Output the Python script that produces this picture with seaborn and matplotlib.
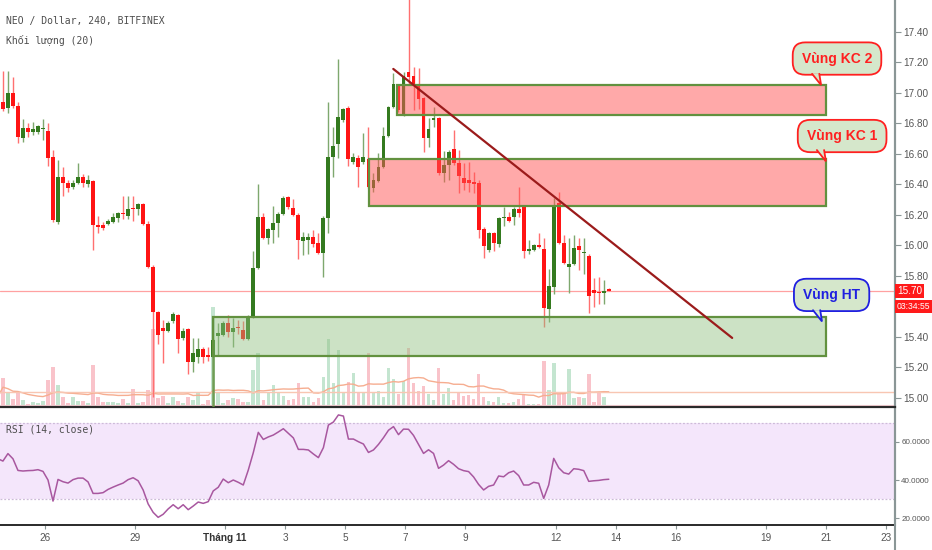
import numpy as np
import pandas as pd
import matplotlib
matplotlib.use("Agg")
import matplotlib.pyplot as plt
import matplotlib.transforms as mtransforms
from matplotlib import font_manager
from matplotlib.patches import Rectangle, Polygon
from matplotlib.lines import Line2D
import seaborn as sns

# NEO / Dollar, 4h candles (Bitfinex)
start_day = -1.56   # first candle, days counted from 26 Oct 00:00
opens = [16.93, 16.94, 16.90, 17.00, 16.91, 16.70, 16.77, 16.74, 16.74, 16.76,
         16.75, 16.58, 16.15, 16.45, 16.41, 16.38, 16.41, 16.45, 16.40, 16.42,
         16.13, 16.13, 16.14, 16.15, 16.18, 16.21, 16.19, 16.245, 16.24, 16.27,
         16.14, 15.86, 15.56, 15.46, 15.44, 15.50, 15.54, 15.39, 15.45, 15.235,
         15.27, 15.32, 15.28, 15.27, 15.405, 15.41, 15.49, 15.43, 15.465, 15.445,
         15.385, 15.53, 15.85, 16.185, 16.05, 16.10, 16.146, 16.205, 16.315, 16.245,
         16.20, 16.028, 16.034, 16.054, 16.015, 15.95, 16.18, 16.58, 16.664, 16.82,
         16.90, 16.546, 16.57, 16.546, 16.565, 16.375, 16.42, 16.513, 16.716, 16.906,
         17.044, 16.854, 17.136, 17.11, 17.044, 16.965, 16.703, 16.82, 16.834, 16.474,
         16.526, 16.631, 16.54, 16.44, 16.428, 16.415, 16.408, 16.106, 15.97, 16.08,
         16.008, 16.178, 16.185, 16.185, 16.237, 16.25, 15.96, 15.969, 16.002, 15.975,
         15.582, 15.726, 16.277, 16.015, 15.857, 15.877, 15.995, 15.949, 15.93, 15.706,
         15.693, 15.687, 15.71]
highs = [17.12, 17.14, 17.14, 17.10, 16.94, 16.83, 16.80, 16.81, 16.79, 16.83,
         16.80, 16.625, 16.56, 16.51, 16.43, 16.43, 16.54, 16.47, 16.46, 16.43,
         16.19, 16.15, 16.17, 16.21, 16.22, 16.32, 16.32, 16.32, 16.28, 16.28,
         16.16, 15.87, 15.57, 15.51, 15.50, 15.56, 15.55, 15.46, 15.46, 15.39,
         15.39, 15.33, 15.33, 15.39, 15.49, 15.50, 15.54, 15.52, 15.51, 15.50,
         15.54, 15.96, 16.40, 16.21, 16.11, 16.26, 16.22, 16.32, 16.32, 16.30,
         16.21, 16.087, 16.08, 16.10, 16.08, 16.19, 16.94, 16.775, 17.22, 16.90,
         16.91, 16.605, 16.59, 16.736, 16.775, 16.474, 16.605, 16.775, 16.913, 17.13,
         17.05, 17.136, 17.62, 17.169, 17.162, 16.97, 16.834, 16.906, 16.84, 16.618,
         16.625, 16.756, 16.625, 16.54, 16.546, 16.48, 16.43, 16.12, 16.087, 16.087,
         16.185, 16.25, 16.218, 16.25, 16.382, 16.25, 16.034, 16.008, 16.08, 16.047,
         15.844, 16.31, 16.35, 16.067, 16.047, 16.067, 16.047, 16.047, 15.943, 15.785,
         15.792, 15.772, 15.72]
lows = [16.78, 16.88, 16.87, 16.90, 16.67, 16.68, 16.71, 16.72, 16.73, 16.69,
        16.52, 16.15, 16.14, 16.32, 16.35, 16.37, 16.40, 16.38, 16.38, 15.97,
        16.08, 16.10, 16.13, 16.145, 16.15, 16.17, 16.17, 16.16, 16.20, 16.13,
        15.85, 15.005, 15.35, 15.23, 15.43, 15.49, 15.29, 15.38, 15.155, 15.17,
        15.23, 15.23, 15.24, 15.265, 15.28, 15.405, 15.40, 15.33, 15.42, 15.38,
        15.38, 15.52, 15.845, 16.04, 16.01, 16.015, 16.054, 16.20, 16.24, 16.19,
        15.91, 15.936, 15.94, 15.99, 15.94, 15.79, 16.08, 16.45, 16.57, 16.81,
        16.52, 16.53, 16.382, 16.53, 16.375, 16.35, 16.415, 16.506, 16.71, 16.90,
        16.874, 16.847, 17.05, 16.887, 16.893, 16.61, 16.644, 16.775, 16.46, 16.415,
        16.428, 16.526, 16.34, 16.362, 16.35, 16.34, 16.047, 15.916, 15.956, 15.96,
        15.99, 16.126, 16.152, 16.13, 16.185, 15.916, 15.943, 15.96, 15.98, 15.464,
        15.497, 15.68, 16.008, 15.877, 15.687, 15.87, 15.838, 15.812, 15.556, 15.595,
        15.615, 15.615, 15.70]
closes = [16.90, 16.89, 17.00, 16.91, 16.71, 16.77, 16.74, 16.76, 16.78, 16.765,
          16.57, 16.165, 16.45, 16.41, 16.375, 16.41, 16.45, 16.41, 16.43, 16.13,
          16.12, 16.11, 16.16, 16.185, 16.21, 16.205, 16.24, 16.235, 16.27, 16.14,
          15.86, 15.56, 15.41, 15.44, 15.49, 15.55, 15.385, 15.44, 15.235, 15.29,
          15.32, 15.27, 15.27, 15.38, 15.425, 15.49, 15.43, 15.46, 15.455, 15.385,
          15.53, 15.85, 16.185, 16.05, 16.106, 16.146, 16.205, 16.31, 16.25, 16.20,
          16.034, 16.054, 16.054, 16.008, 15.95, 16.18, 16.58, 16.65, 16.84, 16.89,
          16.565, 16.58, 16.513, 16.58, 16.382, 16.428, 16.513, 16.716, 16.906, 17.057,
          16.887, 17.11, 17.103, 17.05, 16.959, 16.703, 16.762, 16.834, 16.474, 16.526,
          16.61, 16.54, 16.454, 16.408, 16.408, 16.40, 16.10, 15.995, 16.08, 16.015,
          16.178, 16.185, 16.16, 16.237, 16.21, 15.96, 15.975, 16.002, 15.988, 15.588,
          15.733, 16.257, 16.015, 15.883, 15.877, 15.982, 15.969, 15.956, 15.667, 15.687,
          15.687, 15.70, 15.70]
volumes = [10, 29, 15, 8, 14, 7, 3, 5, 4, 6, 27, 40, 22, 10, 4, 10, 6, 6, 4, 42,
           10, 5, 5, 5, 4, 8, 4, 18, 4, 5, 17, 78, 9, 11, 4, 10, 6, 4, 10, 7,
           15, 3, 7, 100, 14, 4, 7, 9, 8, 5, 5, 37, 54, 7, 15, 22, 15, 11, 7, 8,
           24, 10, 10, 5, 9, 30, 68, 24, 57, 15, 25, 34, 15, 15, 54, 15, 16, 10, 39, 28,
           13, 26, 59, 24, 16, 21, 13, 7, 39, 13, 19, 7, 15, 11, 12, 8, 33, 10, 6, 5,
           10, 4, 4, 5, 8, 13, 3, 3, 3, 46, 17, 44, 13, 14, 38, 9, 10, 9, 33, 5,
           14, 10, 2]
rsi_values = [51.1, 49.9, 53.8, 51.1, 45.0, 44.7, 44.9, 45.0, 45.4, 44.5,
              40.0, 29.0, 40.3, 39.1, 38.4, 40.2, 41.0, 41.0, 39.0, 33.0,
              33.0, 33.4, 35.1, 36.3, 37.4, 38.4, 40.2, 41.2, 39.6, 34.8,
              27.5, 23.1, 20.5, 22.1, 24.9, 27.1, 25.0, 27.1, 24.5, 26.4,
              28.5, 27.8, 28.7, 34.3, 36.2, 40.5, 38.6, 40.0, 38.8, 37.4,
              45.2, 54.3, 64.9, 61.2, 62.5, 63.5, 65.1, 66.8, 64.4, 62.0,
              56.0, 56.0, 55.7, 53.6, 51.7, 56.9, 68.7, 70.3, 74.0, 73.4,
              61.4, 61.4, 60.0, 58.8, 54.4, 55.7, 58.6, 62.1, 66.0, 67.9,
              63.7, 66.6, 66.5, 63.3, 58.6, 53.9, 55.8, 53.9, 46.1, 47.8,
              50.1, 48.2, 45.9, 44.9, 44.4, 41.6, 37.7, 34.8, 36.7, 37.4,
              42.1, 41.7, 43.8, 44.7, 42.3, 37.4, 37.4, 38.8, 38.3, 30.4,
              37.4, 51.3, 46.4, 43.8, 43.1, 45.9, 45.6, 44.9, 39.3, 39.6,
              39.8, 40.2, 40.4]

date_ticks = [0, 3, 6, 8, 10, 12, 14, 17, 19, 21, 24, 26, 28]
date_labels = ['26', '29', 'Tháng 11', '3', '5', '7', '9', '12', '14', '16', '19', '21', '23']
price_ticks = [15.0, 15.2, 15.4, 15.8, 16.0, 16.2, 16.4, 16.6, 16.8, 17.0, 17.2, 17.4]
rsi_ticks = [20, 40, 60]

# hand drawn zones: start/end day, low/high price
zone_names = ['Vùng KC 2', 'Vùng KC 1', 'Vùng HT']
zone_kind = ['kc', 'kc', 'ht']
zone_start = [11.73, 10.79, 5.61]
zone_end = [26.0, 26.0, 26.0]
zone_low = [16.854, 16.257, 15.275]
zone_high = [17.05, 16.563, 15.531]
label_day = [26.37, 26.54, 26.19]
label_price = [17.224, 16.716, 15.674]
tip_day = [25.84, 26.0, 25.87]
tip_price = [17.05, 16.55, 15.50]

trend_days = [11.60, 22.88]
trend_prices = [17.156, 15.392]

last_price = 15.70
countdown = '03:34:55'

df = pd.DataFrame({'open': opens, 'high': highs, 'low': lows, 'close': closes,
                   'volume': volumes, 'rsi': rsi_values})
df['day'] = start_day + np.arange(len(df)) / 6
df['vol_ma'] = df['volume'].rolling(20, min_periods=1).mean()

names = {f.name for f in font_manager.fontManager.ttflist}
if 'Liberation Sans Narrow' in names:
    narrow, bubble_fs, tick_fs, small_fs = 'Liberation Sans Narrow', 11.5, 8, 7.5
else:
    narrow, bubble_fs, tick_fs, small_fs = 'Liberation Sans', 10, 7.2, 5.8

sns.set_theme(style='white')
plt.rcParams['font.family'] = [narrow, 'DejaVu Sans']

GREEN = '#347a1f'
RED = '#ff1414'
AXIS = '#8a9696'
TXT = '#555555'
BUBBLE = '#d5e7cb'

fig = plt.figure(figsize=(9.32, 5.5), dpi=100)
ax = fig.add_axes([0, 1 - 406.7 / 550, 895 / 932, 406.7 / 550])
ax_rsi = fig.add_axes([0, 25 / 550, 895 / 932, 118.3 / 550], sharex=ax)
axv = ax.twinx()
ax.set_zorder(2)
axv.set_zorder(1)
ax.patch.set_visible(False)

# volume
up = df['close'] >= df['open']
vcol = np.where(up, '#c4e5d0', '#f9c3ca')
axv.bar(df['day'], df['volume'], width=0.12, color=vcol, linewidth=0)
sns.lineplot(x=df['day'], y=df['vol_ma'], ax=axv, color='#f6ad90', lw=1.0)
axv.axhline(df['vol_ma'].iloc[-1], color='#f8c6b2', lw=1.0)
axv.axhline(df['volume'].iloc[-1], color='#fad3d8', lw=0.8)
axv.set_ylim(0, df['volume'].max() * 4.067)
axv.set_yticks([])
axv.set_ylabel('')
for s in axv.spines.values():
    s.set_visible(False)

# candles
body_col = np.where(up, GREEN, RED)
wick_col = np.where(up, '#7ea86e', '#ff7070')
ax.vlines(df['day'], df['low'], df['high'], colors=wick_col, lw=1.0, zorder=2)
lo = np.minimum(df['open'], df['close'])
h = np.maximum((df['close'] - df['open']).abs(), 0.006)
ax.bar(df['day'], h, bottom=lo, width=0.13, color=body_col, linewidth=0, zorder=3)

ax.axhline(last_price, color='#ff8a8a', lw=0.9, alpha=0.8, zorder=1)

ymin, ymax = 14.941, 17.608
# zones and their callouts
for name, kind, s, e, zl, zh, lx, ly, tx, ty in zip(zone_names, zone_kind, zone_start, zone_end,
                                                   zone_low, zone_high, label_day, label_price,
                                                   tip_day, tip_price):
    fc = (1.0, 0.33, 0.33, 0.5) if kind == 'kc' else (0.56, 0.75, 0.5, 0.45)
    ax.add_patch(Rectangle((s, zl), e - s, zh - zl, facecolor=fc, edgecolor='#62913f',
                           lw=1.6, zorder=4))
    ec = '#ff2020' if kind == 'kc' else '#1f1fe0'
    ax.text(lx, ly, name, ha='center', va='center', fontsize=bubble_fs, fontweight='bold',
            color=ec, family=[narrow, 'DejaVu Sans'], zorder=8,
            bbox=dict(boxstyle='round,pad=0.66,rounding_size=0.9', fc=BUBBLE, ec=ec, lw=1.3))
    # callout tail: from the bubble's lower edge down to the zone corner
    bl = (tx - 0.30, ty + 0.074)
    br = (tx - 0.06, ty + 0.074)
    ax.add_patch(Polygon([bl, br, (tx, ty)], closed=True, fc=BUBBLE, ec='none', zorder=9))
    ax.plot([bl[0], tx, br[0]], [bl[1], ty, br[1]], color=ec, lw=1.3, zorder=9,
            solid_joinstyle='miter')
    if kind == 'ht':
        ax.vlines(s, ymin, zl, color='#62913f', lw=1.8, alpha=0.85, zorder=4)

ax.plot(trend_days, trend_prices, color='#9b1b1b', lw=1.6, zorder=5)

ax.set_xlim(-1.491, 28.30)
ax.set_ylim(ymin, ymax)
ax.yaxis.tick_right()
ax.set_yticks(price_ticks, [f'{v:.2f}' for v in price_ticks])
ax.tick_params(axis='y', right=True, direction='out', length=4, width=0.8, color=AXIS,
               pad=2, labelsize=tick_fs, labelcolor=TXT)
ax.tick_params(axis='x', bottom=False, labelbottom=False)
ax.set_xlabel('')
ax.set_ylabel('')
for k in ['top', 'left']:
    ax.spines[k].set_visible(False)
ax.spines['right'].set_color(AXIS)
ax.spines['right'].set_linewidth(1.5)
ax.spines['bottom'].set_color('#2a2a2a')
ax.spines['bottom'].set_linewidth(1.6)

trans = mtransforms.blended_transform_factory(ax.transAxes, ax.transData)
ax.text(1.002, last_price, f'{last_price:.2f}', transform=trans, ha='left', va='center',
        color='white', fontsize=tick_fs, clip_on=False, zorder=10,
        bbox=dict(boxstyle='square,pad=0.22', fc='#ff1a1a', ec='none'))
ax.annotate(countdown, xy=(1.002, last_price), xycoords=trans, xytext=(0, -11),
            textcoords='offset points', ha='left', va='center', color='white',
            fontsize=small_fs + 0.4, annotation_clip=False, zorder=10,
            bbox=dict(boxstyle='square,pad=0.25', fc='#ff1a1a', ec='none'))

# RSI pane
ax_rsi.axhspan(30, 70, color='#f4e6fb', zorder=0, lw=0)
for lvl in (30, 70):
    ax_rsi.axhline(lvl, color='#cdbbd8', lw=0.9, ls=(0, (1.5, 1.5)), zorder=1)
sns.lineplot(x=df['day'], y=df['rsi'], ax=ax_rsi, color='#a8579f', lw=1.1, zorder=3)
ax_rsi.set_ylim(16.5, 78.3)
ax_rsi.yaxis.tick_right()
ax_rsi.set_yticks(rsi_ticks, [f'{v:.4f}' for v in rsi_ticks])
ax_rsi.tick_params(axis='y', right=True, direction='out', length=3, width=0.8, color=AXIS,
                   pad=1.5, labelsize=small_fs, labelcolor=TXT)
ax_rsi.set_xticks(date_ticks, date_labels)
ax_rsi.tick_params(axis='x', bottom=True, direction='out', length=3, width=0.8, color=AXIS,
                   pad=3, labelsize=tick_fs, labelcolor=TXT)
for lab in ax_rsi.get_xticklabels():
    if lab.get_text() == 'Tháng 11':
        lab.set_fontweight('bold')
        lab.set_color('#333333')
ax_rsi.set_xlabel('')
ax_rsi.set_ylabel('')
for k in ['top', 'left']:
    ax_rsi.spines[k].set_visible(False)
ax_rsi.spines['right'].set_color(AXIS)
ax_rsi.spines['right'].set_linewidth(1.5)
ax_rsi.spines['bottom'].set_color('#2a2a2a')
ax_rsi.spines['bottom'].set_linewidth(1.4)

fig.add_artist(Line2D([895 / 932] * 2, [0, 1], transform=fig.transFigure, color=AXIS, lw=1.5))

mono = ['DejaVu Sans Mono', 'DejaVu Sans']
fig.text(6 / 932, 1 - 21 / 550, 'NEO / Dollar, 240, BITFINEX', family=mono, fontsize=7,
         color='#4d4d4d', va='center')
fig.text(6 / 932, 1 - 40 / 550, 'Khối lượng (20)', family=mono, fontsize=7,
         color='#4d4d4d', va='center')
fig.text(6 / 932, 1 - 429 / 550, 'RSI (14, close)', family=mono, fontsize=7,
         color='#4d4d4d', va='center')

fig.savefig('out.png', dpi=100, facecolor='white')
